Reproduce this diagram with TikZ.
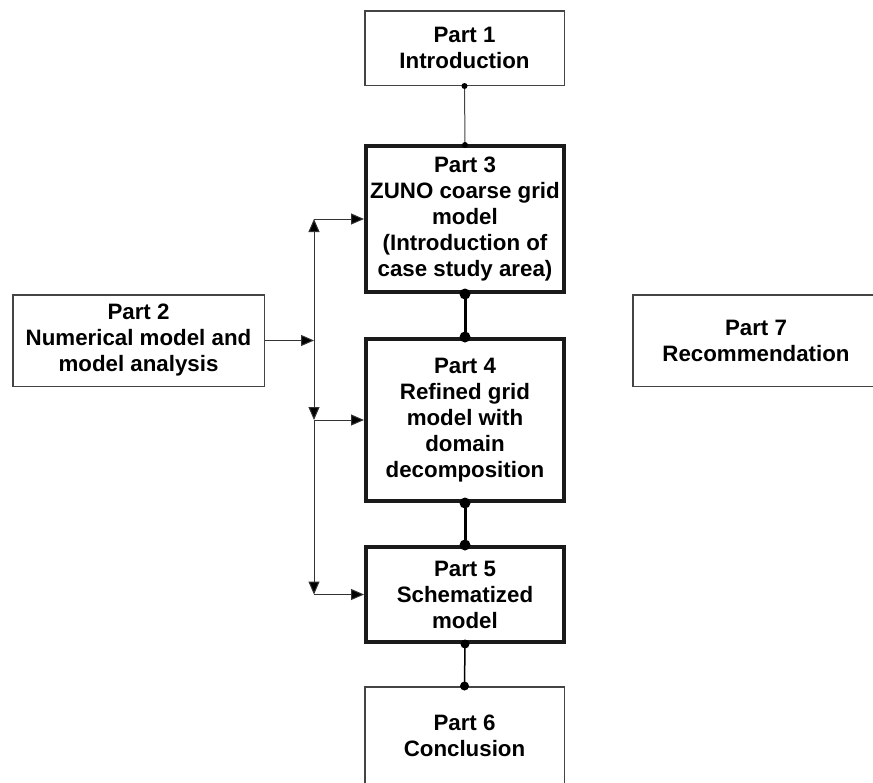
\documentclass[tikz,border=0pt]{standalone}
\usepackage{fontspec}
\setmainfont{Liberation Sans}
\usetikzlibrary{arrows.meta}
\definecolor{thinline}{HTML}{444444}
\definecolor{thickline}{HTML}{1A1A1A}
\begin{document}
\begin{tikzpicture}[x=1pt,y=-1pt,
  every node/.style={font=\fontsize{22.3}{26}\selectfont\bfseries, align=center, inner sep=0pt},
  thinbox/.style={draw=thinline, line width=1.5pt},
  thickbox/.style={draw=thickline, line width=4pt},
  arr/.style={draw=black!80, line width=1pt, -{Triangle[length=13pt,width=11pt,fill=black]}},
  dotS/.style={circle, fill=black, minimum size=6pt, inner sep=0pt},
  dotL/.style={circle, fill=black, minimum size=11pt, inner sep=0pt},
  dotM/.style={circle, fill=black, minimum size=9pt, inner sep=0pt}]
\useasboundingbox (0,0) rectangle (873,782);
\node[thinbox, minimum width=199.5pt, minimum height=74.5pt] (p1) at (464.5,48) {Part 1\\Introduction};
\node[thickbox, minimum width=198pt, minimum height=146pt] (p3) at (465,219) {Part 3\\ZUNO coarse grid\\model\\(Introduction of\\case study area)};
\node[thickbox, minimum width=198pt, minimum height=162pt] (p4) at (465,420) {Part 4\\Refined grid\\model with\\domain\\decomposition};
\node[thickbox, minimum width=198pt, minimum height=95pt] (p5) at (465,594.5) {Part 5\\Schematized\\model};
\node[thinbox, minimum width=199.5pt, minimum height=97.5pt] (p6) at (464.5,735.5) {Part 6\\Conclusion};
\node[thinbox, minimum width=251.5pt, minimum height=91.5pt] (p2) at (138.5,340.5) {Part 2\\Numerical model and\\model analysis};
\node[thinbox, minimum width=246.5pt, minimum height=91.5pt] (p7) at (756,340.5) {Part 7\\Recommendation};
% vertical connectors
\draw[draw=thinline, line width=1pt] (p1.south) -- (p3.north);
\node[dotS] at (p1.south) {};
\node[dotS] at ([yshift=-1pt]p3.north) {};
\draw[draw=black, line width=3pt] (p3.south) -- (p4.north);
\node[dotL] at (p3.south) {};
\node[dotL] at (p4.north) {};
\draw[draw=black, line width=3pt] (p4.south) -- (p5.north);
\node[dotL] at (p4.south) {};
\node[dotL] at (p5.north) {};
\draw[draw=black, line width=1.5pt] (p5.south) -- (p6.north);
\node[dotM] at (p5.south) {};
\node[dotM] at (p6.north) {};
% branch connectors
\coordinate (j) at (314,340.5);
\coordinate (ja) at (314,219);
\coordinate (jb) at (314,420);
\coordinate (jc) at (314,594.5);
\draw[arr] (p2.east) -- (j);
\draw[arr] (j) -- (ja);
\draw[arr] (ja) -- (p3.west);
\draw[arr] (j) -- (jb);
\draw[arr] (jb) -- (p4.west);
\draw[arr] (jb) -- (jc);
\draw[arr] (jc) -- (p5.west);
\end{tikzpicture}
\end{document}
